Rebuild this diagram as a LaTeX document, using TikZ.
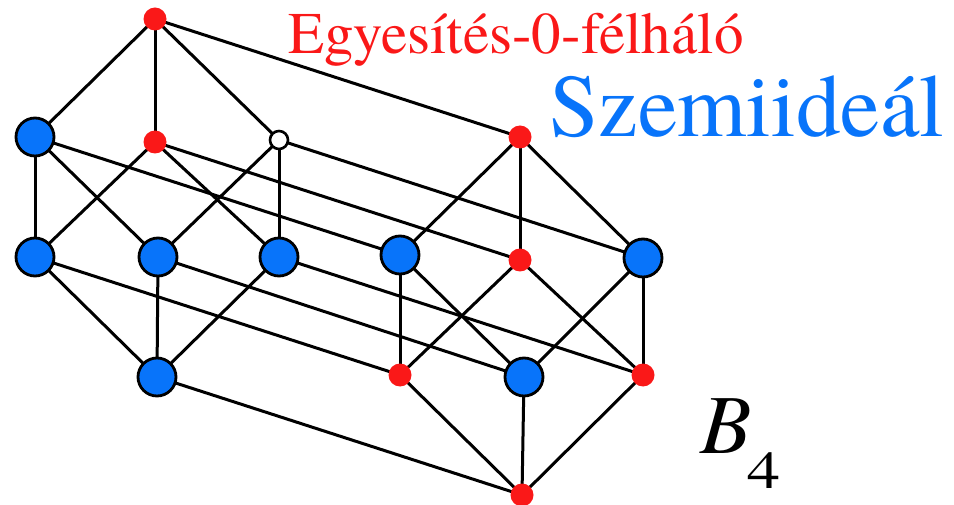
\documentclass[tikz,border=0pt]{standalone}
\usepackage{fontspec}
\setmainfont{texgyretermes}[Extension=.otf,UprightFont=*-regular,ItalicFont=*-italic,BoldFont=*-bold,BoldItalicFont=*-bolditalic]
\definecolor{nblue}{RGB}{8,116,250}
\definecolor{nred}{RGB}{250,24,24}
\begin{document}
\begin{tikzpicture}[x=1pt,y=-1pt,
  bignode/.style={circle,draw=black,line width=2.8pt,fill=nblue,minimum size=38pt,inner sep=0pt},
  rednode/.style={circle,fill=nred,minimum size=23pt,inner sep=0pt},
  whitenode/.style={circle,draw=black,line width=2.6pt,fill=white,minimum size=18pt,inner sep=0pt},
  edge/.style={line width=3pt,black},
  lbl/.style={inner sep=0pt,anchor=base west}]
\useasboundingbox (0,0) rectangle (954,505);
\coordinate (pT)  at (155,19);
\coordinate (pa)  at (35,137);
\coordinate (pb)  at (155,142);
\coordinate (pc)  at (279,140);
\coordinate (pd)  at (35,257);
\coordinate (pe)  at (158,257);
\coordinate (pf)  at (279,257);
\coordinate (pg)  at (157,377);
\coordinate (pT2) at (520,137);
\coordinate (pa2) at (400,255);
\coordinate (pb2) at (520,260);
\coordinate (pc2) at (643,258);
\coordinate (pd2) at (400,375);
\coordinate (pe2) at (524,377);
\coordinate (pf2) at (643,375);
\coordinate (pg2) at (522,495);
\foreach \u/\v in {T/a,T/b,T/c,a/d,a/e,b/d,b/f,c/e,c/f,d/g,e/g,f/g,
  T2/a2,T2/b2,T2/c2,a2/d2,a2/e2,b2/d2,b2/f2,c2/e2,c2/f2,d2/g2,e2/g2,f2/g2,
  T/T2,a/a2,b/b2,c/c2,d/d2,e/e2,f/f2,g/g2}
  \draw[edge] (p\u) -- (p\v);
\node[rednode]   (T)  at (pT)  {};
\node[bignode]   (a)  at (pa)  {};
\node[rednode]   (b)  at (pb)  {};
\node[whitenode] (c)  at (pc)  {};
\node[bignode]   (d)  at (pd)  {};
\node[bignode]   (e)  at (pe)  {};
\node[bignode]   (f)  at (pf)  {};
\node[bignode]   (g)  at (pg)  {};
\node[rednode]   (T2) at (pT2) {};
\node[bignode]   (a2) at (pa2) {};
\node[rednode]   (b2) at (pb2) {};
\node[bignode]   (c2) at (pc2) {};
\node[rednode]   (d2) at (pd2) {};
\node[bignode]   (e2) at (pe2) {};
\node[rednode]   (f2) at (pf2) {};
\node[rednode]   (g2) at (pg2) {};
\node[lbl,text=nred] (t1) at (288,54) {\fontsize{59}{59}\selectfont Egyesítés-0-félháló};
\node[lbl,text=nblue] (t2) at (549,137) {\fontsize{89}{89}\selectfont Szemiideál};
\node[lbl] (t3) at (700,453) {\fontsize{84}{84}\selectfont\itshape B\/\upshape\kern-4pt\raisebox{-35pt}{\fontsize{53}{53}\selectfont\scalebox{1.25}[1]{4}}};
\end{tikzpicture}
\end{document}
